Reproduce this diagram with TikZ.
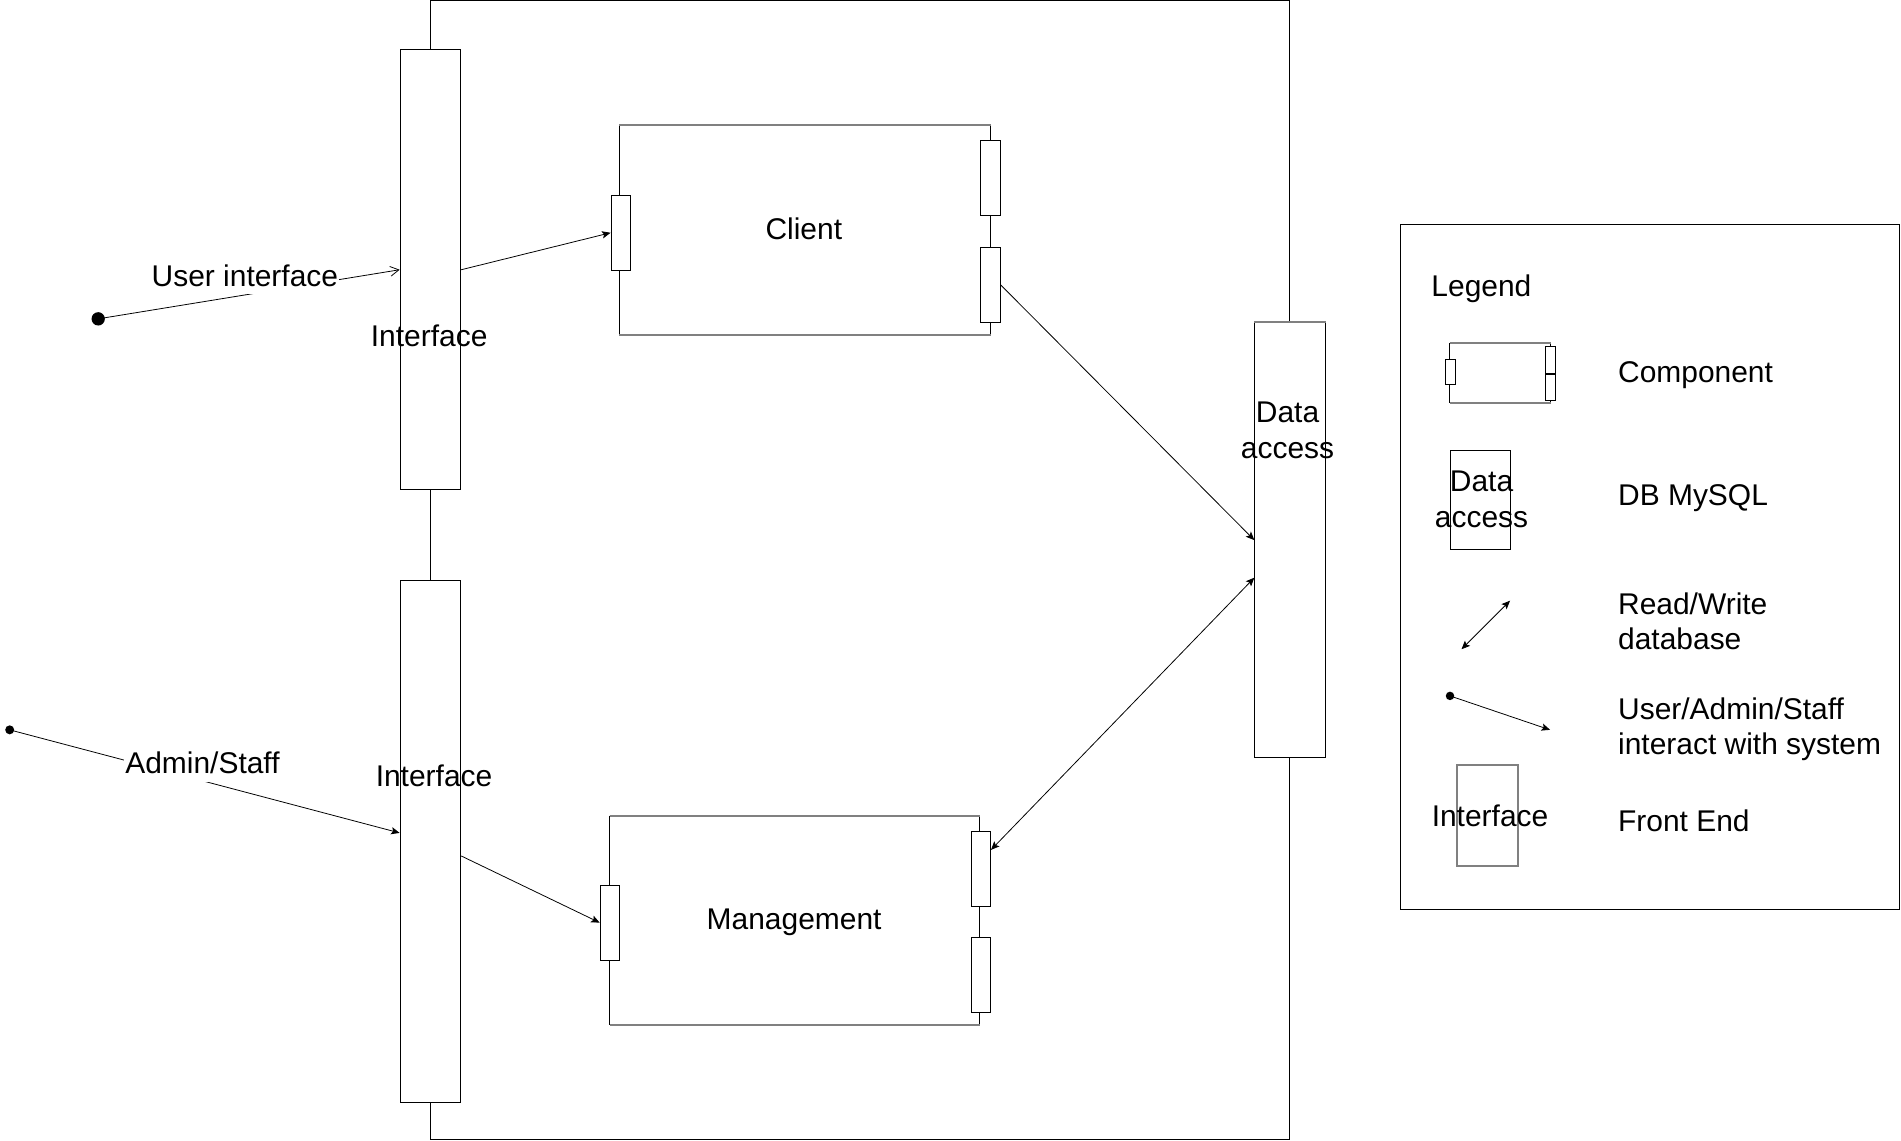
\documentclass[tikz,border=0pt]{standalone}
\usepackage{fontspec}
\setmainfont{Liberation Sans}
\usetikzlibrary{arrows.meta}
\definecolor{edgegray}{RGB}{128,128,128}
\begin{document}
\begin{tikzpicture}[x=1pt,y=-1pt,
  every node/.style={font=\fontsize{24.7}{29.5}\selectfont},
  blk/.style={draw, fill=white, line width=0.8pt, inner sep=0pt},
  plain/.style={fill=white, inner sep=0pt},
  txt/.style={inner sep=0pt, align=center},
  ltxt/.style={inner sep=0pt, align=left, anchor=west},
  btxt/.style={inner sep=0pt, anchor=base west},
  grayedge/.style={draw=edgegray, line width=1.6pt},
  conn/.style={line width=0.65pt},
  tip/.style={-{Stealth[length=7pt,width=6pt,inset=1.5pt]}},
  tips/.style={{Stealth[length=7pt,width=6pt,inset=1.5pt]}-{Stealth[length=7pt,width=6pt,inset=1.5pt]}},
  opentip/.style={-{Straight Barb[length=7pt,width=8pt]}},
  dotnode/.style={circle, fill=black, inner sep=0pt, minimum size=#1},
  lbl/.style={fill=white, inner xsep=1pt, inner ysep=6.3pt}
]
\useasboundingbox (0,0) rectangle (1568,941);
\fill[white] (0,0) rectangle (1568,941);

% system boundary
\node[draw, line width=0.8pt, inner sep=0pt, minimum width=709pt, minimum height=939.5pt] (sys) at (709.5,470.25) {};

% interfaces
\node[blk, minimum width=50pt, minimum height=363pt] (if1) at (355,222.5) {};
\node[blk, minimum width=50pt, minimum height=430pt] (if2) at (355,694) {};

% Client component
\node[plain, minimum width=306pt, minimum height=173pt] (cl) at (664,189.5) {};
\draw[line width=0.8pt] (cl.north west) -- (cl.south west) (cl.north east) -- (cl.south east);
\draw[grayedge] (cl.north west) -- (cl.north east) (cl.south west) -- (cl.south east);
\node[blk, minimum width=16pt, minimum height=62pt] (clin) at (512,192) {};
\node[blk, minimum width=16pt, minimum height=62pt] (clo1) at (817,147) {};
\node[blk, minimum width=16pt, minimum height=62pt] (clo2) at (817,235) {};
\node[txt] (cltxt) at (663,189) {Client};

% Management component
\node[plain, minimum width=305pt, minimum height=172pt] (mg) at (655.5,759) {};
\draw[line width=0.8pt] (mg.north west) -- (mg.south west) (mg.north east) -- (mg.south east);
\draw[grayedge] (mg.north west) -- (mg.north east) (mg.south west) -- (mg.south east);
\node[blk, minimum width=16pt, minimum height=62pt] (mgin) at (503,761) {};
\node[blk, minimum width=16pt, minimum height=62pt] (mgo1) at (809,717) {};
\node[blk, minimum width=16pt, minimum height=62pt] (mgo2) at (809,804) {};
\node[txt] (mgtxt) at (655,760.5) {Management};

% Data access
\node[blk, minimum width=58pt, minimum height=359pt] (da) at (1064,445.5) {};
\draw[grayedge] (da.north west) -- (da.north east);
\node[txt] (datxt) at (1062,355) {Data\\access};

% interface labels
\node[txt] (if1txt) at (354,277) {Interface};
\node[txt] (if2txt) at (358,640) {Interface};

% connectors
\node[dotnode=11pt] (u) at (81,263) {};
\draw[conn, opentip] (u.center) -- (if1.west);
\node[lbl] (ulbl) at (202,227.5) {User interface};

\draw[conn, tip] (if1.east) -- (clin.west);
\draw[conn, tip] (clo2.east) -- (da.west);

\coordinate (da2) at ([yshift=-31pt]da.west);
\coordinate (mg1) at ([yshift=16pt]mgo1.east);
\draw[conn, tips] (da2) -- (mg1);

\node[dotnode=7.4pt] (a) at (8,602) {};
\coordinate (if2a) at ([yshift=7pt]if2.west);
\draw[conn, tip] (a.center) -- (if2a);
\node[lbl] (albl) at (167,629.5) {Admin/Staff};

\coordinate (if2b) at ([yshift=-12pt]if2.east);
\draw[conn, tip] (if2b) -- (mgin.west);

% Legend
\node[draw, line width=0.8pt, inner sep=0pt, minimum width=412pt, minimum height=565pt] (leg) at (1361,467.5) {};
\node[btxt] (legt) at (1180.5,244.7) {Legend};

\node[plain, minimum width=83pt, minimum height=49pt] (lc) at (1237.5,307.5) {};
\draw[line width=0.8pt] (lc.north west) -- (lc.south west) (lc.north east) -- (lc.south east);
\draw[grayedge] (lc.north west) -- (lc.north east) (lc.south west) -- (lc.south east);
\node[blk, minimum width=8pt, minimum height=21pt] (lcin) at (1196.3,307) {};
\node[blk, minimum width=8pt, minimum height=22pt] (lco1) at (1279,297) {};
\node[blk, minimum width=8pt, minimum height=21pt] (lco2) at (1279,319.5) {};
\node[btxt] (t1) at (1334.5,315.7) {Component};

\node[blk, minimum width=50pt, minimum height=82pt] (lda) at (1221,412.5) {};
\node[txt] (ldatxt) at (1222,412) {Data\\access};
\node[btxt] (t2) at (1334.5,416.7) {DB MySQL};

\coordinate (rw1) at (1205.5,535.5);
\coordinate (rw2) at (1245.5,495.5);
\draw[conn, tips] (rw1) -- (rw2);
\node[ltxt] (t3) at (1334.5,512.5) {Read/Write\\database};

\node[dotnode=7pt] (ld) at (1196,574) {};
\coordinate (ldend) at (1278.5,602);
\draw[conn, tip] (ld.center) -- (ldend);
\node[ltxt] (t4) at (1334.5,601.5) {User/Admin/Staff\\interact with system};

\node[plain, grayedge, minimum width=50pt, minimum height=83pt] (lif) at (1227,672.5) {};
\node[txt] (liftxt) at (1229,673) {Interface};
\node[btxt] (t5) at (1334.5,685.7) {Front End};
\end{tikzpicture}
\end{document}
